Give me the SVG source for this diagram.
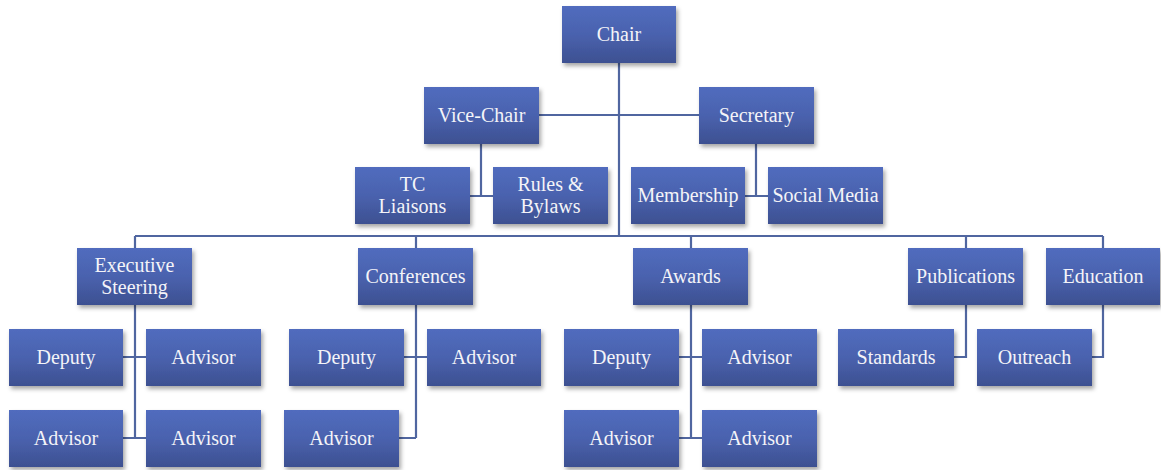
<svg xmlns="http://www.w3.org/2000/svg" width="1161" height="470" viewBox="0 0 1161 470">
<defs>
<linearGradient id="g" x1="0" y1="0" x2="0" y2="1">
<stop offset="0" stop-color="#516CBE"/>
<stop offset="0.5" stop-color="#4A62AE"/>
<stop offset="1" stop-color="#3D5091"/>
</linearGradient>
<filter id="sh" x="-10%" y="-10%" width="125%" height="135%">
<feDropShadow dx="2" dy="3" stdDeviation="2" flood-color="#000" flood-opacity="0.35"/>
</filter>
<style>
.box{fill:url(#g);filter:url(#sh);}
.t{font-family:'Liberation Serif','DejaVu Serif',serif;font-size:20px;fill:#F4F4F8;text-anchor:middle;}
.c{fill:none;stroke:#5066A0;stroke-width:2.2;}
</style>
</defs>
<rect width="1161" height="470" fill="#fff"/>
<g id="connectors">
<path class="c" d="M619 63V236M539 115H699"/>
<path class="c" d="M481 144V196M470 196H493"/>
<path class="c" d="M756 144V196M745 196H768"/>
<path class="c" d="M135 236H1103M135 236V248M416 236V248M691 236V248M966 236V248M1103 236V248"/>
<path class="c" d="M135 305V438M123 357H146M123 438H146"/>
<path class="c" d="M416 305V438M404 357H427M399 438H416"/>
<path class="c" d="M691 305V438M679 357H702M679 438H702"/>
<path class="c" d="M966 305V357H954"/>
<path class="c" d="M1103 305V357H1092"/>
</g>
<g font-family="Liberation Serif, serif">
<g id="chair"><rect class="box" x="562" y="6" width="114" height="57"/><text class="t" x="619" y="41">Chair</text></g>
<g id="vice-chair"><rect class="box" x="424" y="87" width="115" height="57"/><text class="t" x="481.5" y="122">Vice-Chair</text></g>
<g id="secretary"><rect class="box" x="699" y="87" width="115" height="57"/><text class="t" x="756.5" y="122">Secretary</text></g>
<g id="tc-liaisons"><rect class="box" x="355" y="167" width="115" height="57"/><text class="t" x="412.5" y="191">TC</text><text class="t" x="412.5" y="213">Liaisons</text></g>
<g id="rules-bylaws"><rect class="box" x="493" y="167" width="115" height="57"/><text class="t" x="550.5" y="191">Rules &amp;</text><text class="t" x="550.5" y="213">Bylaws</text></g>
<g id="membership"><rect class="box" x="631" y="167" width="114" height="57"/><text class="t" x="688" y="202">Membership</text></g>
<g id="social-media"><rect class="box" x="768" y="167" width="115" height="57"/><text class="t" x="825.5" y="202">Social Media</text></g>
<g id="executive-steering"><rect class="box" x="77" y="248" width="115" height="57"/><text class="t" x="134.5" y="272">Executive</text><text class="t" x="134.5" y="294">Steering</text></g>
<g id="conferences"><rect class="box" x="358" y="248" width="115" height="57"/><text class="t" x="415.5" y="283">Conferences</text></g>
<g id="awards"><rect class="box" x="633" y="248" width="115" height="57"/><text class="t" x="690.5" y="283">Awards</text></g>
<g id="publications"><rect class="box" x="908" y="248" width="115" height="57"/><text class="t" x="965.5" y="283">Publications</text></g>
<g id="education"><rect class="box" x="1046" y="248" width="114" height="57"/><text class="t" x="1103" y="283">Education</text></g>
<g id="es-deputy"><rect class="box" x="9" y="329" width="114" height="57"/><text class="t" x="66" y="364">Deputy</text></g>
<g id="es-advisor1"><rect class="box" x="146" y="329" width="115" height="57"/><text class="t" x="203.5" y="364">Advisor</text></g>
<g id="es-advisor2"><rect class="box" x="9" y="410" width="114" height="57"/><text class="t" x="66" y="445">Advisor</text></g>
<g id="es-advisor3"><rect class="box" x="146" y="410" width="115" height="57"/><text class="t" x="203.5" y="445">Advisor</text></g>
<g id="conf-deputy"><rect class="box" x="289" y="329" width="115" height="57"/><text class="t" x="346.5" y="364">Deputy</text></g>
<g id="conf-advisor1"><rect class="box" x="427" y="329" width="114" height="57"/><text class="t" x="484" y="364">Advisor</text></g>
<g id="conf-advisor2"><rect class="box" x="284" y="410" width="115" height="57"/><text class="t" x="341.5" y="445">Advisor</text></g>
<g id="aw-deputy"><rect class="box" x="564" y="329" width="115" height="57"/><text class="t" x="621.5" y="364">Deputy</text></g>
<g id="aw-advisor1"><rect class="box" x="702" y="329" width="115" height="57"/><text class="t" x="759.5" y="364">Advisor</text></g>
<g id="aw-advisor2"><rect class="box" x="564" y="410" width="115" height="57"/><text class="t" x="621.5" y="445">Advisor</text></g>
<g id="aw-advisor3"><rect class="box" x="702" y="410" width="115" height="57"/><text class="t" x="759.5" y="445">Advisor</text></g>
<g id="standards"><rect class="box" x="838" y="329" width="116" height="57"/><text class="t" x="896" y="364">Standards</text></g>
<g id="outreach"><rect class="box" x="977" y="329" width="115" height="57"/><text class="t" x="1034.5" y="364">Outreach</text></g>
</g>
</svg>
